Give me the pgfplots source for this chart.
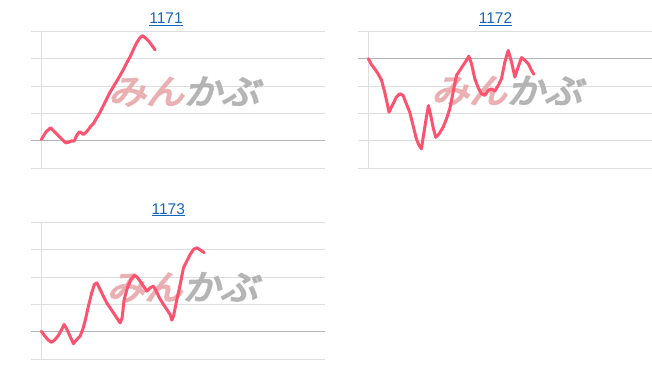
\documentclass[border=0pt]{standalone}
\usepackage{pgfplots}
\pgfplotsset{compat=1.18}
\usepackage{fontspec}
\setmainfont{Liberation Sans}
\newfontfamily\cjk[FakeSlant=0.22,FakeBold=5]{Noto Sans CJK JP}
\definecolor{lineRed}{RGB}{255,82,110}
\definecolor{gridGrey}{RGB}{222,222,222}
\definecolor{zeroGrey}{RGB}{180,180,180}
\definecolor{linkBlue}{RGB}{21,101,192}
\definecolor{wmPink}{RGB}{232,170,172}
\definecolor{wmGrey}{RGB}{175,175,175}

\pgfplotstableread{
x v
0 0.05
14 0.33
28 0.48
38 0.35
56 0.13
73 -0.07
81 -0.05
91 0.00
98 -0.01
106 0.20
114 0.33
121 0.29
126 0.23
134 0.32
141 0.41
148 0.54
156 0.63
166 0.84
176 1.05
186 1.29
196 1.54
206 1.78
216 1.98
226 2.18
236 2.39
246 2.61
256 2.85
266 3.07
276 3.34
286 3.59
296 3.77
303 3.84
311 3.77
321 3.65
331 3.49
341 3.32
}\dataA

\pgfplotstableread{
x v
0 0.00
9 -0.21
19 -0.37
29 -0.55
39 -0.77
49 -1.22
62 -1.95
74 -1.65
84 -1.40
94 -1.28
104 -1.34
114 -1.65
124 -1.95
134 -2.44
144 -2.93
152 -3.17
159 -3.29
166 -2.74
174 -2.13
180 -1.71
187 -2.07
194 -2.50
202 -2.87
212 -2.74
224 -2.50
234 -2.20
244 -1.83
254 -1.22
264 -0.61
274 -0.43
284 -0.24
294 -0.06
301 0.09
309 -0.18
319 -0.73
329 -1.06
339 -1.28
349 -1.34
359 -1.16
369 -1.10
379 -1.18
389 -0.98
399 -0.73
409 -0.12
419 0.30
429 -0.12
439 -0.67
449 -0.30
459 0.04
469 -0.06
479 -0.18
489 -0.43
496 -0.57
}\dataB

\pgfplotstableread{
x v
0 0.02
11 -0.16
21 -0.30
31 -0.38
41 -0.28
51 -0.13
61 0.09
68 0.27
76 0.11
86 -0.16
96 -0.43
106 -0.28
116 -0.16
124 0.09
131 0.39
141 0.94
151 1.43
159 1.73
166 1.79
176 1.55
186 1.30
196 1.06
206 0.88
216 0.70
226 0.51
236 0.33
242 0.51
248 1.18
258 1.61
268 1.91
278 2.06
286 2.01
296 1.85
306 1.67
316 1.49
326 1.61
336 1.67
344 1.49
354 1.24
366 1.00
376 0.82
386 0.63
391 0.43
396 0.57
406 1.18
416 1.73
426 2.34
436 2.59
446 2.83
456 3.01
466 3.07
476 2.99
488 2.89
}\dataC

\pgfplotsset{
  spark/.style={
    scale only axis, width=294bp, height=137bp,
    xmin=-31, xmax=850,
    axis line style={draw=none},
    tick style={draw=none},
    xtick=\empty, yticklabels={},
    ymajorgrids, grid style={gridGrey, line width=0.9bp},
    clip=false,
  },
  sparkline/.style={lineRed, line width=3bp, line join=round, line cap=round, no marks},
}

\newcommand{\wm}{\scalebox{1.22}[1.1]{\cjk\fontsize{31bp}{31bp}\selectfont\textcolor{wmPink}{みん}\textcolor{wmGrey}{かぶ}}}

\begin{document}
\begin{tikzpicture}[x=1bp,y=1bp]
\useasboundingbox (0,0) rectangle (652,382);

% Chart 1171
\begin{axis}[spark, at={(31bp,213.7bp)}, anchor=south west, ymin=-1, ymax=4, ytick={-1,0,1,2,3,4}]
  \draw[zeroGrey, line width=0.9bp] (axis cs:-31,0) -- (axis cs:850,0);
  \draw[gridGrey, line width=0.9bp] (axis cs:0,-1) -- (axis cs:0,4);
  \node[opacity=0.85] at (axis cs:427,1.8) {\wm};
  \addplot[sparkline] table[x=x,y=v] {\dataA};
\end{axis}
\node[anchor=base, text=linkBlue, font=\fontsize{15.5bp}{18bp}\selectfont] at (166,358.5) {\underline{1171}};

% Chart 1172
\begin{axis}[spark, at={(358bp,213.7bp)}, anchor=south west, ymin=-4, ymax=1, ytick={-4,-3,-2,-1,0,1}]
  \draw[zeroGrey, line width=0.9bp] (axis cs:-31,0) -- (axis cs:850,0);
  \draw[gridGrey, line width=0.9bp] (axis cs:0,-4) -- (axis cs:0,1);
  \node[opacity=0.85] at (axis cs:415,-1.17) {\wm};
  \addplot[sparkline] table[x=x,y=v] {\dataB};
\end{axis}
\node[anchor=base, text=linkBlue, font=\fontsize{15.5bp}{18bp}\selectfont] at (495.5,358.5) {\underline{1172}};

% Chart 1173
\begin{axis}[spark, at={(31bp,22.7bp)}, anchor=south west, ymin=-1, ymax=4, ytick={-1,0,1,2,3,4}]
  \draw[zeroGrey, line width=0.9bp] (axis cs:-31,0) -- (axis cs:850,0);
  \draw[gridGrey, line width=0.9bp] (axis cs:0,-1) -- (axis cs:0,4);
  \node[opacity=0.85] at (axis cs:423,1.63) {\wm};
  \addplot[sparkline] table[x=x,y=v] {\dataC};
\end{axis}
\node[anchor=base, text=linkBlue, font=\fontsize{15.5bp}{18bp}\selectfont] at (168.3,168) {\underline{1173}};
\end{tikzpicture}
\end{document}
